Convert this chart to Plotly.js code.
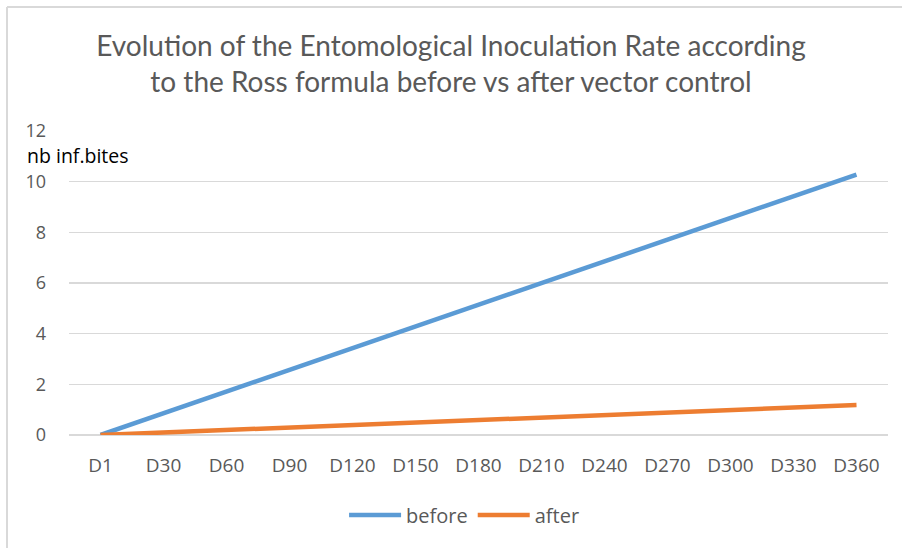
<!DOCTYPE html>
<html>
<head>
<meta charset="utf-8">
<script src="https://cdn.plot.ly/plotly-3.0.1.min.js"></script>
<style>
html,body{margin:0;padding:0;background:#fff;}
#chart{width:902px;height:548px;}
</style>
</head>
<body>
<div id="chart"></div>
<script>
const days = ["D1","D30","D60","D90","D120","D150","D180","D210","D240","D270","D300","D330","D360"];
const before = [0, 0.86, 1.71, 2.57, 3.43, 4.28, 5.14, 6.0, 6.85, 7.71, 8.57, 9.42, 10.28];
const after = [0, 0.10, 0.20, 0.30, 0.39, 0.49, 0.59, 0.69, 0.79, 0.89, 0.98, 1.08, 1.18];
const yTicks = [0, 2, 4, 6, 8, 10, 12];

const FONT = "Open Sans, Lato, sans-serif";
const GRAY = "#595959";

const traces = [
  {x: days, y: before, name: "before", type: "scatter", mode: "lines",
   line: {color: "#5B9BD5", width: 4.5}},
  {x: days, y: after, name: "after", type: "scatter", mode: "lines",
   line: {color: "#ED7D31", width: 4.5}}
];

const layout = {
  width: 902, height: 548,
  paper_bgcolor: "#fff", plot_bgcolor: "#fff",
  margin: {l: 69, r: 14, t: 131, b: 113},
  font: {family: FONT, color: GRAY},
  title: {
    text: "Evolution of the Entomological Inoculation Rate according<br>to the Ross formula before vs after vector control",
    font: {family: "Lato, sans-serif", size: 28, color: GRAY},
    x: 0.5, xanchor: "center", y: 0.898, yanchor: "middle", yref: "container"
  },
  xaxis: {
    type: "category", range: [-0.5, 12.5],
    showgrid: false, zeroline: false, showline: false, ticks: "",
    tickfont: {family: FONT, size: 19, color: GRAY},
    ticklabelstandoff: 17
  },
  yaxis: {
    range: [0, 12], tickvals: yTicks, ticktext: yTicks.map(String),
    showgrid: true, gridcolor: "#D9D9D9", gridwidth: 1.3,
    zeroline: true, zerolinecolor: "#D9D9D9", zerolinewidth: 1.3,
    showline: false, ticks: "",
    tickfont: {family: FONT, size: 18, color: GRAY},
    ticklabelstandoff: 22
  },
  showlegend: true,
  legend: {
    orientation: "h", x: 0.483, xanchor: "center", y: -0.263, yanchor: "middle",
    font: {family: FONT, size: 20, color: GRAY},
    itemwidth: 52, traceorder: "normal", itemclick: false
  },
  annotations: [{
    text: "nb inf.bites", xref: "paper", yref: "paper",
    x: -0.053, xanchor: "left", y: 0.918, yanchor: "middle", borderpad: 0,
    showarrow: false, font: {family: FONT, size: 19.5, color: "#000"}
  }],
  shapes: [
    {type: "line", xref: "paper", yref: "paper", x0: -0.0757, x1: 1.02, y0: 1.408, y1: 1.408,
     line: {color: "#D9D9D9", width: 2}},
    {type: "line", xref: "paper", yref: "paper", x0: -0.0757, x1: -0.0757, y0: 1.408, y1: -0.4,
     line: {color: "#D9D9D9", width: 2}}
  ]
};

Plotly.newPlot("chart", traces, layout, {displayModeBar: false, staticPlot: true});
</script>
</body>
</html>
